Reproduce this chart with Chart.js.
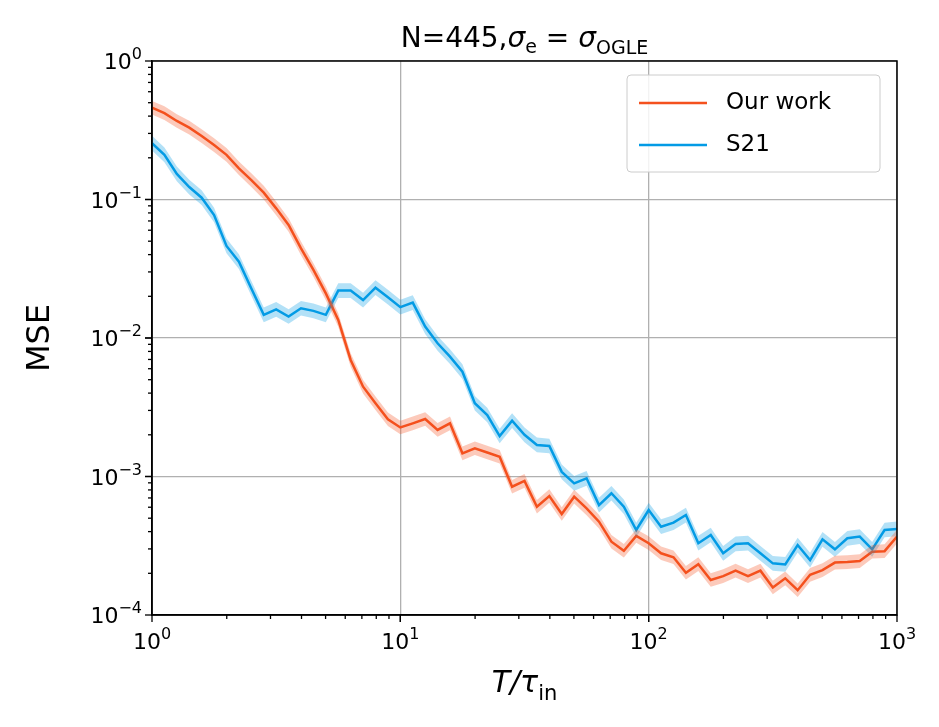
<!DOCTYPE html>
<html>
<head>
<meta charset="utf-8">
<script src="https://cdn.jsdelivr.net/npm/chart.js@4.4.0/dist/chart.umd.min.js"></script>
<style>
html, body { margin: 0; padding: 0; background: #fff; }
#wrap { width: 939px; height: 727px; }
</style>
</head>
<body>
<div id="wrap"><canvas id="grafico"></canvas></div>
<script>
// T/tau_in sampled at 20 points per decade, 10^0 .. 10^3
const pasosLog = [];
for (let i = 0; i <= 60; i++) pasosLog.push(i * 0.05);

const mseNuestro = [
  0.46, 0.42, 0.369, 0.33, 0.287, 0.247, 0.21, 0.168, 0.138, 0.112,
  0.0863, 0.0655, 0.0444, 0.031, 0.021, 0.0135, 0.00694, 0.00445, 0.00338, 0.00259,
  0.00226, 0.00242, 0.0026, 0.00217, 0.00242, 0.00147, 0.0016, 0.00149, 0.00139, 0.000844,
  0.000929, 0.000605, 0.000723, 0.000536, 0.000715, 0.000589, 0.000472, 0.000338, 0.000291, 0.000372,
  0.00033, 0.000279, 0.000261, 0.000202, 0.000233, 0.000179, 0.000191, 0.000209, 0.000191, 0.000209,
  0.000158, 0.000184, 0.000151, 0.000195, 0.000211, 0.000239, 0.000241, 0.000245, 0.000286, 0.000289,
  0.000368
];
const mseS21 = [
  0.255, 0.21, 0.153, 0.123, 0.103, 0.0773, 0.0462, 0.0356, 0.0228, 0.0147,
  0.0161, 0.0143, 0.0164, 0.0157, 0.0147, 0.022, 0.022, 0.0188, 0.0231, 0.0197,
  0.0167, 0.018, 0.0121, 0.00916, 0.00733, 0.00571, 0.00338, 0.00278, 0.00196, 0.00253,
  0.002, 0.00169, 0.00166, 0.00108, 0.000893, 0.00097, 0.000622, 0.000757, 0.000605, 0.000411,
  0.000573, 0.000434, 0.000464, 0.000527, 0.00033, 0.000378, 0.000279, 0.000326, 0.00033, 0.000279,
  0.000236, 0.000232, 0.00032, 0.000249, 0.000352, 0.000298, 0.000358, 0.000368, 0.000298, 0.000411,
  0.000418
];
const bandaNuestro = 1.12;
const bandaS21 = 1.13;
const ticksX = [0, 1, 2, 3];
const ticksY = [-4, -3, -2, -1, 0];
const etiquetas = ['Our work', 'S21'];

const colores = {
  nuestro: '#f4511e',
  nuestroBanda: 'rgba(244,81,30,0.3)',
  s21: '#039be5',
  s21Banda: 'rgba(3,155,229,0.3)'
};

const esMayor = v => Math.abs(Math.log10(v) - Math.round(Math.log10(v))) < 1e-9;
const xs = pasosLog.map(p => Math.pow(10, p));
const pts = (arr, f) => arr.map((v, i) => ({ x: xs[i], y: v * f }));

// draws "10" with a raised exponent
function potencia(c, n, x, y, align) {
  c.font = '22px "DejaVu Sans"';
  const wb = c.measureText('10').width;
  c.font = '16px "DejaVu Sans"';
  const ex = n < 0 ? '−' + (-n) : String(n);
  const we = c.measureText(ex).width;
  const w = wb + we;
  let x0 = align === 'center' ? x - w / 2 : x - w;
  c.textAlign = 'left'; c.textBaseline = 'alphabetic';
  c.font = '22px "DejaVu Sans"'; c.fillText('10', x0, y);
  c.font = '16px "DejaVu Sans"'; c.fillText(ex, x0 + wb, y - 10);
}

const decorado = {
  id: 'decorado',
  afterDraw(chart) {
    const c = chart.ctx, a = chart.chartArea;
    const sx = chart.scales.x, sy = chart.scales.y;
    c.save();
    c.strokeStyle = '#000'; c.lineWidth = 1.5;
    c.strokeRect(a.left, a.top, a.right - a.left, a.bottom - a.top);
    c.lineWidth = 1.3;
    for (let d = 0; d < 3; d++) for (let k = 1; k <= 10; k++) {
      const v = k * Math.pow(10, d), px = sx.getPixelForValue(v);
      const L = (k === 1 || k === 10) ? 7 : 4;
      c.beginPath(); c.moveTo(px, a.bottom); c.lineTo(px, a.bottom + L); c.stroke();
    }
    for (let d = -4; d < 0; d++) for (let k = 1; k <= 10; k++) {
      const v = k * Math.pow(10, d), py = sy.getPixelForValue(v);
      const L = (k === 1 || k === 10) ? 7 : 4;
      c.beginPath(); c.moveTo(a.left, py); c.lineTo(a.left - L, py); c.stroke();
    }
    c.fillStyle = '#000';
    ticksX.forEach(n => potencia(c, n, sx.getPixelForValue(Math.pow(10, n)), a.bottom + 34, 'center'));
    ticksY.forEach(n => potencia(c, n, a.left - 10, sy.getPixelForValue(Math.pow(10, n)) + 8, 'right'));
    // axis titles
    const mx = (a.left + a.right) / 2;
    c.textBaseline = 'alphabetic'; c.textAlign = 'left';
    c.font = 'italic 30px "DejaVu Sans"';
    const t1 = 'T/τ', w1 = c.measureText(t1).width;
    c.font = '21px "DejaVu Sans"';
    const w2 = c.measureText('in').width;
    let x0 = mx - (w1 + w2) / 2;
    c.font = 'italic 30px "DejaVu Sans"'; c.fillText(t1, x0, 692);
    c.font = '21px "DejaVu Sans"'; c.fillText('in', x0 + w1, 700);
    c.save();
    c.translate(49, (a.top + a.bottom) / 2); c.rotate(-Math.PI / 2);
    c.textAlign = 'center'; c.font = '32px "DejaVu Sans"'; c.fillText('MSE', 0, 0);
    c.restore();
    // title
    const partes = [
      ['N=445,', '28px "DejaVu Sans"', 0],
      ['σ', 'italic 28px "DejaVu Sans"', 0],
      ['e', '19px "DejaVu Sans"', 6],
      [' = ', '28px "DejaVu Sans"', 0],
      ['σ', 'italic 28px "DejaVu Sans"', 0],
      ['OGLE', '19px "DejaVu Sans"', 7]
    ];
    let tot = 0;
    partes.forEach(p => { c.font = p[1]; tot += c.measureText(p[0]).width; });
    let tx = mx - tot / 2;
    partes.forEach(p => { c.font = p[1]; c.fillText(p[0], tx, 47 + p[2]); tx += c.measureText(p[0]).width; });
    // legend
    const lx = 627, ly = 75, lw = 253, lh = 97;
    c.fillStyle = 'rgba(255,255,255,0.85)';
    c.strokeStyle = '#ccc'; c.lineWidth = 1;
    c.beginPath(); c.roundRect(lx, ly, lw, lh, 4); c.fill(); c.stroke();
    c.font = '23px "DejaVu Sans"'; c.textBaseline = 'middle';
    [colores.nuestro, colores.s21].forEach((col, i) => {
      const yy = ly + 28 + i * 42;
      c.strokeStyle = col; c.lineWidth = 2.5;
      c.beginPath(); c.moveTo(lx + 12, yy); c.lineTo(lx + 80, yy); c.stroke();
      c.fillStyle = '#000'; c.fillText(etiquetas[i], lx + 99, yy);
    });
    c.restore();
  }
};

const banda = (arr, f, col, fill) => ({
  data: pts(arr, f), borderWidth: 0, pointRadius: 0, backgroundColor: col, fill: fill
});

new Chart(document.getElementById('grafico'), {
  type: 'line',
  data: {
    datasets: [
      banda(mseNuestro, 1 / bandaNuestro, colores.nuestroBanda, false),
      banda(mseNuestro, bandaNuestro, colores.nuestroBanda, '-1'),
      banda(mseS21, 1 / bandaS21, colores.s21Banda, false),
      banda(mseS21, bandaS21, colores.s21Banda, '-1'),
      { data: pts(mseNuestro, 1), borderColor: colores.nuestro, borderWidth: 2.5, pointRadius: 0, fill: false },
      { data: pts(mseS21, 1), borderColor: colores.s21, borderWidth: 2.5, pointRadius: 0, fill: false }
    ]
  },
  options: {
    responsive: true,
    maintainAspectRatio: false,
    animation: false,
    layout: { padding: { left: 152, right: 42, top: 61, bottom: 112 } },
    scales: {
      x: {
        type: 'logarithmic', min: 1, max: 1000,
        ticks: { display: false },
        grid: { drawTicks: false, lineWidth: 1.3, color: c => esMayor(c.tick.value) ? '#b0b0b0' : 'rgba(0,0,0,0)' },
        border: { color: '#000', width: 1.5 }
      },
      y: {
        type: 'logarithmic', min: 1e-4, max: 1,
        ticks: { display: false },
        grid: { drawTicks: false, lineWidth: 1.3, color: c => esMayor(c.tick.value) ? '#b0b0b0' : 'rgba(0,0,0,0)' },
        border: { color: '#000', width: 1.5 }
      }
    },
    plugins: { legend: { display: false }, tooltip: { enabled: false } }
  },
  plugins: [decorado]
});
</script>
</body>
</html>
